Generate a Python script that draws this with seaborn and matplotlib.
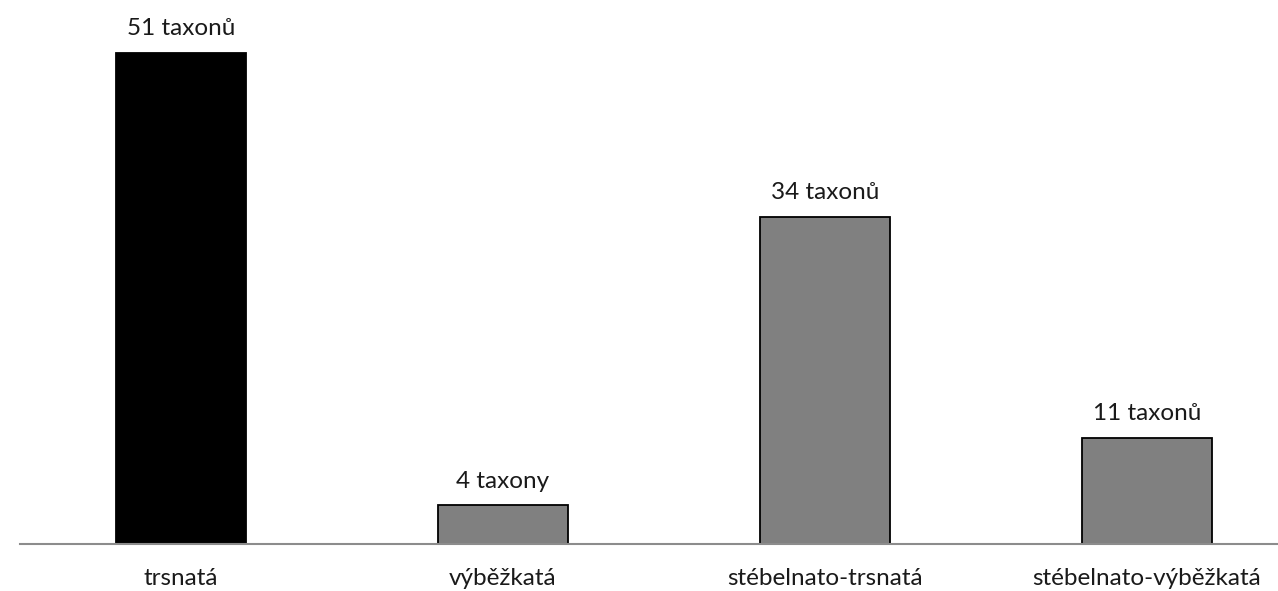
import matplotlib
matplotlib.use("Agg")
import matplotlib.pyplot as plt
import seaborn as sns

kategorie = ['trsnatá', 'výběžkatá', 'stébelnato-trsnatá', 'stébelnato-výběžkatá']
pocty = [51, 4, 34, 11]
popisky = ['51 taxonů', '4 taxony', '34 taxonů', '11 taxonů']
barvy = ['#000000', '#808080', '#808080', '#808080']

sns.set_style('white')
plt.rcParams['font.family'] = ['Lato', 'DejaVu Sans']

fig = plt.figure(figsize=(12.78, 5.91), dpi=100)
# osa: x od 20 px do okraje, y od 47 px zdola po horni okraj
ax = fig.add_axes([20 / 1278, 47 / 591, 1258 / 1278, 544 / 591])

sns.barplot(x=kategorie, y=pocty, hue=kategorie, palette=barvy, legend=False,
            edgecolor='black', linewidth=1.3, width=0.404, ax=ax)

for kontejner, text in zip(ax.containers, popisky):
    ax.bar_label(kontejner, labels=[text], padding=10, fontsize=17.5, color='#1a1a1a')

ax.set_xlim(-0.5, 3.407)
ax.set_ylim(0, 56.5)
ax.set_yticks([])
ax.tick_params(axis='x', length=0, pad=17, labelsize=17.5, labelcolor='#1a1a1a')
ax.set_xlabel('')
ax.set_ylabel('')
for strana in ['top', 'right', 'left']:
    ax.spines[strana].set_visible(False)
ax.spines['bottom'].set_color('#8c8c8c')
ax.spines['bottom'].set_linewidth(1.5)

fig.savefig('out.png', dpi=100)
